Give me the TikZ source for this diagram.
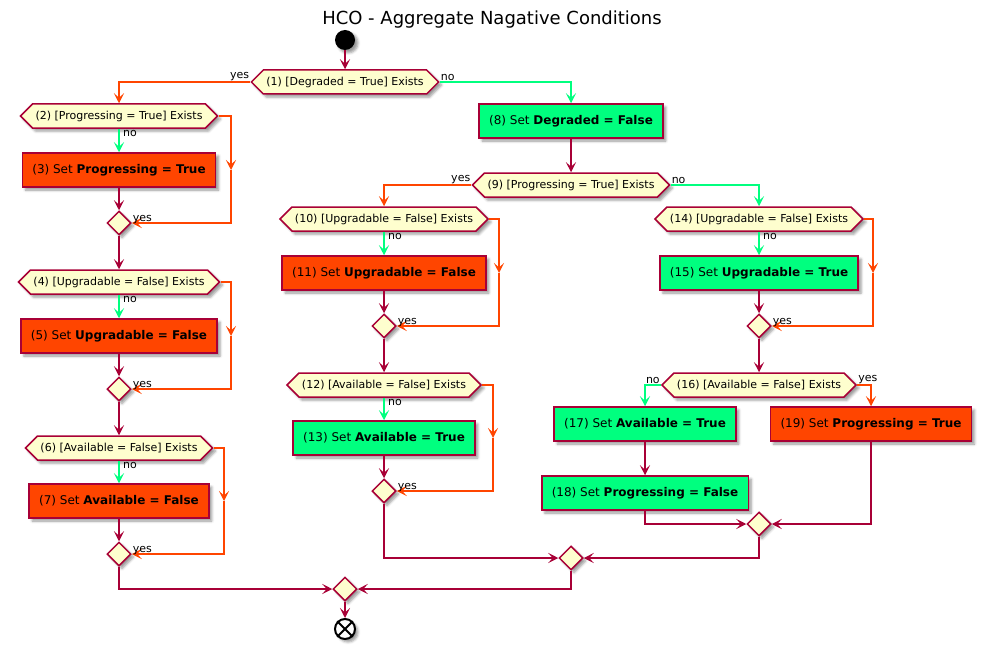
\documentclass[tikz,border=0pt]{standalone}
\usepackage{fontspec}
\setmainfont{DejaVu Sans}
\usetikzlibrary{arrows.meta, shapes.geometric, shapes.symbols, shadows.blur, calc}
\definecolor{umlline}{HTML}{A80036}
\definecolor{umlfill}{HTML}{FEFECE}
\definecolor{okgreen}{HTML}{00FF7F}
\definecolor{badorange}{HTML}{FF4500}
\tikzset{
  umlshadow/.style={
    blur shadow={shadow xshift=3pt,shadow yshift=-3pt,shadow opacity=40,shadow blur radius=2.5pt}
  },
  decision/.style={
    shape=signal, signal to=west and east, signal pointer angle=90,
    minimum height=24pt, inner xsep=3pt, inner ysep=0pt,
    draw=umlline, fill=umlfill, line width=1.5pt,
    font=\fontsize{11}{13}\selectfont, umlshadow
  },
  setbad/.style={
    rectangle, minimum height=34pt, inner xsep=10pt,
    draw=umlline, fill=badorange, line width=1.5pt,
    font=\fontsize{12}{14}\selectfont, umlshadow
  },
  setgood/.style={setbad, fill=okgreen},
  merge/.style={
    diamond, minimum width=24pt, minimum height=24pt, inner sep=0pt,
    draw=umlline, fill=umlfill, line width=1.5pt, umlshadow
  },
  flow/.style={
    ->, >={Stealth[length=10pt,width=10pt,inset=4.5pt]}, line width=1.5pt, color=umlline
  },
  yesflow/.style={flow, color=badorange},
  noflow/.style={flow, color=okgreen},
  lbl/.style={font=\fontsize{11}{13}\selectfont, inner sep=1pt}
}
\begin{document}
\begin{tikzpicture}[x=1pt, y=-1pt]
    \useasboundingbox (0,0) rectangle (984,650);

    % Title and start
    \node (title) at (492,20) {\fontsize{18}{22}\selectfont HCO - Aggregate Nagative Conditions};
    \node[circle, fill=black, minimum size=20pt, inner sep=0pt, umlshadow] (start) at (345,40) {};
    \node[decision] (d1) at (345,82) {(1) [Degraded = True] Exists};
    \node[lbl, anchor=south east] (y1) at (d1.west) {yes};
    \node[lbl, anchor=south west] (n1) at (d1.east) {no};
    \draw[flow] (start.south) -- (d1.north);

    % Degraded branch (yes)
    \node[decision] (d2) at (119,116) {(2) [Progressing = True] Exists};
    \node[setbad] (b3) at (119,170) {(3) Set \textbf{Progressing = True}};
    \node[merge] (m1) at (119,223) {};
    \node[decision] (d4) at (119,282) {(4) [Upgradable = False] Exists};
    \node[setbad] (b5) at (119,336) {(5) Set \textbf{Upgradable = False}};
    \node[merge] (m2) at (119,389) {};
    \node[decision] (d6) at (119,448) {(6) [Available = False] Exists};
    \node[setbad] (b7) at (119,501) {(7) Set \textbf{Available = False}};
    \node[merge] (m3) at (119,554) {};

    \draw[yesflow] (d1.west) -| (d2.north);
    \node[lbl, anchor=north west] (n2) at ([xshift=3pt]d2.south) {no};
    \draw[noflow] (d2.south) -- (b3.north);
    \draw[flow] (b3.south) -- (m1.north);
    \coordinate (c2) at (231,170);
    \draw[yesflow] (d2.east) -| (c2);
    \draw[yesflow] (c2) |- (m1.east);
    \node[lbl, anchor=south west] (y2) at ([yshift=-2pt]m1.east) {yes};
    \draw[flow] (m1.south) -- (d4.north);

    \node[lbl, anchor=north west] (n4) at ([xshift=3pt]d4.south) {no};
    \draw[noflow] (d4.south) -- (b5.north);
    \draw[flow] (b5.south) -- (m2.north);
    \coordinate (c4) at (231,336);
    \draw[yesflow] (d4.east) -| (c4);
    \draw[yesflow] (c4) |- (m2.east);
    \node[lbl, anchor=south west] (y4) at ([yshift=-2pt]m2.east) {yes};
    \draw[flow] (m2.south) -- (d6.north);

    \node[lbl, anchor=north west] (n6) at ([xshift=3pt]d6.south) {no};
    \draw[noflow] (d6.south) -- (b7.north);
    \draw[flow] (b7.south) -- (m3.north);
    \coordinate (c6) at (224,501);
    \draw[yesflow] (d6.east) -| (c6);
    \draw[yesflow] (c6) |- (m3.east);
    \node[lbl, anchor=south west] (y6) at ([yshift=-2pt]m3.east) {yes};

    % Not degraded branch (no)
    \node[setgood] (b8) at (571,121) {(8) Set \textbf{Degraded = False}};
    \node[decision] (d9) at (571,185) {(9) [Progressing = True] Exists};
    \draw[noflow] (d1.east) -| (b8.north);
    \draw[flow] (b8.south) -- (d9.north);
    \node[lbl, anchor=south east] (y9) at (d9.west) {yes};
    \node[lbl, anchor=south west] (n9) at (d9.east) {no};

    % Progressing (yes)
    \node[decision] (d10) at (384,219) {(10) [Upgradable = False] Exists};
    \node[setbad] (b11) at (384,273) {(11) Set \textbf{Upgradable = False}};
    \node[merge] (m4) at (384,326) {};
    \node[decision] (d12) at (384,385) {(12) [Available = False] Exists};
    \node[setgood] (b13) at (384,438) {(13) Set \textbf{Available = True}};
    \node[merge] (m5) at (384,491) {};

    \draw[yesflow] (d9.west) -| (d10.north);
    \node[lbl, anchor=north west] (n10) at ([xshift=3pt]d10.south) {no};
    \draw[noflow] (d10.south) -- (b11.north);
    \draw[flow] (b11.south) -- (m4.north);
    \coordinate (c10) at (499,273);
    \draw[yesflow] (d10.east) -| (c10);
    \draw[yesflow] (c10) |- (m4.east);
    \node[lbl, anchor=south west] (y10) at ([yshift=-2pt]m4.east) {yes};
    \draw[flow] (m4.south) -- (d12.north);

    \node[lbl, anchor=north west] (n12) at ([xshift=3pt]d12.south) {no};
    \draw[noflow] (d12.south) -- (b13.north);
    \draw[flow] (b13.south) -- (m5.north);
    \coordinate (c12) at (493,438);
    \draw[yesflow] (d12.east) -| (c12);
    \draw[yesflow] (c12) |- (m5.east);
    \node[lbl, anchor=south west] (y12) at ([yshift=-2pt]m5.east) {yes};

    % Not progressing (no)
    \node[decision] (d14) at (759,219) {(14) [Upgradable = False] Exists};
    \node[setgood] (b15) at (759,273) {(15) Set \textbf{Upgradable = True}};
    \node[merge] (m6) at (759,326) {};
    \node[decision] (d16) at (759,385) {(16) [Available = False] Exists};
    \node[setgood] (b17) at (645,424) {(17) Set \textbf{Available = True}};
    \node[setgood] (b18) at (645,493) {(18) Set \textbf{Progressing = False}};
    \node[setbad] (b19) at (871,424) {(19) Set \textbf{Progressing = True}};
    \node[merge] (m7) at (759,524) {};

    \draw[noflow] (d9.east) -| (d14.north);
    \node[lbl, anchor=north west] (n14) at ([xshift=3pt]d14.south) {no};
    \draw[noflow] (d14.south) -- (b15.north);
    \draw[flow] (b15.south) -- (m6.north);
    \coordinate (c14) at (873,273);
    \draw[yesflow] (d14.east) -| (c14);
    \draw[yesflow] (c14) |- (m6.east);
    \node[lbl, anchor=south west] (y14) at ([yshift=-2pt]m6.east) {yes};
    \draw[flow] (m6.south) -- (d16.north);

    \node[lbl, anchor=south east] (n16) at (d16.west) {no};
    \node[lbl, anchor=south west] (y16) at (d16.east) {yes};
    \draw[noflow] (d16.west) -| (b17.north);
    \draw[yesflow] (d16.east) -| (b19.north);
    \draw[flow] (b17.south) -- (b18.north);
    \draw[flow] (b18.south) |- (m7.west);
    \draw[flow] (b19.south) |- (m7.east);

    % Joins and stop
    \node[merge] (j1) at (571,558) {};
    \node[merge] (fin) at (345,589) {};
    \node[circle, draw=black, fill=white, line width=2pt, minimum size=20pt, inner sep=0pt, umlshadow] (stop) at (345,629) {};
    \draw[black, line width=2pt] (stop.45) -- (stop.225) (stop.135) -- (stop.-45);
    \draw[flow] (m5.south) |- (j1.west);
    \draw[flow] (m7.south) |- (j1.east);
    \draw[flow] (m3.south) |- (fin.west);
    \draw[flow] (j1.south) |- (fin.east);
    \draw[flow] (fin.south) -- (stop.north);
\end{tikzpicture}
\end{document}
